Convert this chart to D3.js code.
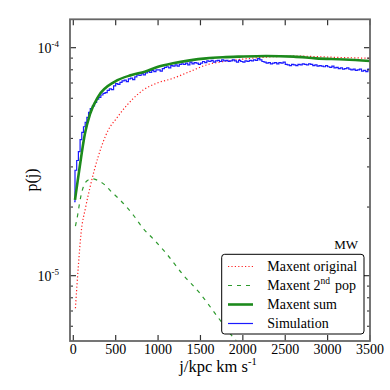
<!DOCTYPE html>
<html><head><meta charset="utf-8">
<script src="https://cdn.jsdelivr.net/npm/d3@7"></script>
<style>
html,body{margin:0;padding:0;background:#fff;}
svg{display:block;font-family:"Liberation Serif","Times New Roman",serif;}
</style></head>
<body><svg id="c" width="390" height="390"></svg>
<script>
// ---- data (values in units of 1e-5) ----
const xTickValues = [0, 500, 1000, 1500, 2000, 2500, 3000, 3500];
const yMajorTicks = [1e-5, 1e-4];
const yMajorLabels = ["-5", "-4"];
const yMinorTicks = [6e-6, 7e-6, 8e-6, 9e-6, 2e-5, 3e-5, 4e-5, 5e-5, 6e-5, 7e-5, 8e-5, 9e-5];

const origJ = [25, 59, 91, 146, 196, 294, 412, 510, 569, 700, 824, 981, 1176, 1373, 1569, 1765, 1961, 2157, 2400, 2667, 2900, 3058, 3300, 3500];
const origP = [0.72, 1.096, 1.53, 2.0, 2.43, 3.33, 4.35, 4.9, 5.24, 5.95, 6.52, 6.98, 7.34, 7.85, 8.4, 8.69, 8.88, 9.02, 9.14, 9.18, 9.13, 9.08, 9.03, 8.98];

const popJ = [25, 52, 70, 118, 176, 230, 275, 373, 451, 529, 608, 706, 812, 950, 1098, 1294, 1490, 1700, 1878, 1960];
const popP = [1.65, 1.85, 2.04, 2.45, 2.63, 2.66, 2.63, 2.5, 2.33, 2.19, 2.04, 1.85, 1.63, 1.44, 1.25, 1.01, 0.84, 0.662, 0.541, 0.50];

const sumJ = [20, 32, 59, 99, 138, 196, 294, 491, 687, 843, 1000, 1176, 1373, 1569, 1765, 1961, 2275, 2600, 2863, 3200, 3500];
const sumP = [2.15, 2.32, 2.72, 3.44, 4.21, 5.1, 6.1, 7.1, 7.59, 7.85, 8.25, 8.55, 8.8, 8.98, 9.08, 9.14, 9.2, 9.14, 8.98, 8.88, 8.74];

const simEarlyJ = [10, 20, 40, 60, 80, 100, 120, 140, 160, 180];
const simStartJ = 200, simBinWidth = 25, simEndJ = 3500;
const simP = [
  2.11, 2.9, 3.2, 3.5, 3.95, 4.25, 4.5, 4.7, 4.95, 5.2,
  5.4, 5.55, 5.75, 5.95,
  6.05, 6.2, 6.3, 6.35,
  6.5, 6.6, 6.55, 6.8,
  6.95, 6.9, 7.05, 7.15,
  7.2, 7.1, 7.3, 7.35,
  7.25, 7.45, 7.6, 7.55,
  7.7, 7.6, 7.75, 7.85,
  7.8, 7.95, 7.85, 8.0,
  8.0, 7.9, 8.1, 8.2,
  8.25, 8.15, 8.35, 8.3,
  8.4, 8.3, 8.45, 8.5,
  8.45, 8.55, 8.4, 8.65,
  8.5, 8.6, 8.55, 8.45,
  8.55, 8.7, 8.6, 8.75,
  8.7, 8.8, 8.65, 8.75,
  8.8, 8.7, 8.85, 8.75,
  8.8, 8.7, 8.75, 8.85,
  8.75, 8.65, 8.8, 8.7,
  8.65, 8.75, 8.7, 8.8,
  8.75, 8.85, 8.8, 8.95,
  8.85, 8.7, 8.65, 8.55,
  8.6, 8.5, 8.55, 8.6,
  8.5, 8.6, 8.55, 8.65,
  8.45, 8.4, 8.35, 8.45,
  8.4, 8.35, 8.45, 8.4,
  8.5, 8.45, 8.4, 8.5,
  8.45, 8.35, 8.4, 8.3,
  8.35, 8.3, 8.25, 8.35,
  8.25, 8.2, 8.3, 8.15,
  8.2, 8.1, 8.15, 8.05,
  8.1, 8.15, 8.05, 8.0,
  8.05, 7.95, 8.0, 8.05,
  7.9, 7.95, 7.85, 8.05
];

const legendLabels = ["Maxent original", "Maxent 2nd pop", "Maxent sum", "Simulation"];
const panelLabel = "MW";

// ---- layout ----
const L = 70, R = 370, T = 19.3, B = 341;
const svg = d3.select("#c");
const x = d3.scaleLinear().domain([-39, 3500]).range([L, R]);
const y = d3.scaleLog().domain([5.17e-6, 1.332e-4]).range([B, T]);
const S = 1e-5;

svg.append("defs").append("clipPath").attr("id", "clip")
  .append("rect").attr("x", L).attr("y", T).attr("width", R - L).attr("height", B - T);

const g = svg.append("g").attr("clip-path", "url(#clip)");
const line = d3.line().x(d => x(d[0])).y(d => y(d[1] * S));

// red dotted original
g.append("path").datum(origJ.map((j, i) => [j, origP[i]]))
  .attr("d", line.curve(d3.curveMonotoneX)).attr("fill", "none")
  .attr("stroke", "#ff2020").attr("stroke-width", 1.2).attr("stroke-dasharray", "1.2,2.2");

// green dashed 2nd pop
g.append("path").datum(popJ.map((j, i) => [j, popP[i]]))
  .attr("d", line.curve(d3.curveMonotoneX)).attr("fill", "none")
  .attr("stroke", "#2e9a2e").attr("stroke-width", 1.2).attr("stroke-dasharray", "4,5");

// blue simulation (step)
const simJ = simEarlyJ.concat(d3.range(simStartJ, simEndJ, simBinWidth));
const simPts = simJ.map((j, i) => [j, simP[i]]);
simPts.push([simEndJ, simP[simP.length - 1]]);
g.append("path").datum(simPts)
  .attr("d", line.curve(d3.curveStepAfter)).attr("fill", "none")
  .attr("stroke", "#1a1aff").attr("stroke-width", 1.2);

// green sum
g.append("path").datum(sumJ.map((j, i) => [j, sumP[i]]))
  .attr("d", line.curve(d3.curveMonotoneX)).attr("fill", "none")
  .attr("stroke", "#1c8a1c").attr("stroke-width", 2.6);

// ---- frame and ticks ----
const tickCol = "#333";
const axes = svg.append("g");
xTickValues.forEach(v => {
  axes.append("line").attr("x1", x(v)).attr("x2", x(v)).attr("y1", B).attr("y2", B - 6).attr("stroke", tickCol).attr("stroke-width", 1.2);
  axes.append("line").attr("x1", x(v)).attr("x2", x(v)).attr("y1", T).attr("y2", T + 6).attr("stroke", tickCol).attr("stroke-width", 1.2);
  axes.append("text").attr("x", x(v)).attr("y", 353.5).attr("text-anchor", "middle")
    .attr("font-size", 14).attr("fill", "#000").text(v);
});
yMajorTicks.forEach((v, i) => {
  axes.append("line").attr("x1", L).attr("x2", L + 6).attr("y1", y(v)).attr("y2", y(v)).attr("stroke", tickCol).attr("stroke-width", 1.2);
  axes.append("line").attr("x1", R).attr("x2", R - 6).attr("y1", y(v)).attr("y2", y(v)).attr("stroke", tickCol).attr("stroke-width", 1.2);
  const t = axes.append("text").attr("x", 59).attr("y", y(v) + 5.5).attr("text-anchor", "end").attr("font-size", 14).attr("fill", "#000");
  t.append("tspan").text("10");
  t.append("tspan").attr("font-size", 9).attr("dy", -6).text(yMajorLabels[i]);
});
yMinorTicks.forEach(v => {
  axes.append("line").attr("x1", L).attr("x2", L + 3).attr("y1", y(v)).attr("y2", y(v)).attr("stroke", tickCol).attr("stroke-width", 1.1);
  axes.append("line").attr("x1", R).attr("x2", R - 3).attr("y1", y(v)).attr("y2", y(v)).attr("stroke", tickCol).attr("stroke-width", 1.1);
});
axes.append("rect").attr("x", L).attr("y", T).attr("width", R - L).attr("height", B - T)
  .attr("fill", "none").attr("stroke", "#666").attr("stroke-width", 1.8);

// axis titles
const xt = svg.append("text").attr("x", 218).attr("y", 371.7).attr("text-anchor", "middle").attr("font-size", 16.5).attr("fill", "#000");
xt.append("tspan").text("j/kpc km s");
xt.append("tspan").attr("font-size", 10.5).attr("dy", -7).text("-1");

svg.append("text").attr("transform", "translate(37,180) rotate(-90)").attr("text-anchor", "middle")
  .attr("font-size", 16).attr("fill", "#000").text("p(j)");

// panel label
svg.append("text").attr("x", 358).attr("y", 249).attr("text-anchor", "end").attr("font-size", 13).attr("fill", "#000").text(panelLabel);

// ---- legend ----
const lg = svg.append("g");
lg.append("rect").attr("x", 221.7).attr("y", 254.3).attr("width", 142.3).attr("height", 79.7).attr("rx", 3)
  .attr("fill", "#fff").attr("stroke", "#000").attr("stroke-width", 1);
const styles = [
  {c: "#ff2020", w: 1.2, d: "1.2,2.2"},
  {c: "#2e9a2e", w: 1.2, d: "4,5"},
  {c: "#1c8a1c", w: 2.6, d: null},
  {c: "#1a1aff", w: 1.2, d: null}
];
legendLabels.forEach((lab, i) => {
  const by = 271 + i * 19;
  const ln = lg.append("line").attr("x1", 228).attr("x2", 253).attr("y1", by - 4.5).attr("y2", by - 4.5)
    .attr("stroke", styles[i].c).attr("stroke-width", styles[i].w);
  if (styles[i].d) ln.attr("stroke-dasharray", styles[i].d);
  const t = lg.append("text").attr("x", 267.3).attr("y", by).attr("font-size", 14).attr("fill", "#000");
  if (i === 1) {
    t.append("tspan").text("Maxent 2");
    t.append("tspan").attr("font-size", 9.5).attr("dy", -6).text("nd");
    t.append("tspan").attr("dy", 6).attr("dx", 5).text("pop");
  } else {
    t.text(lab);
  }
});
</script></body></html>
